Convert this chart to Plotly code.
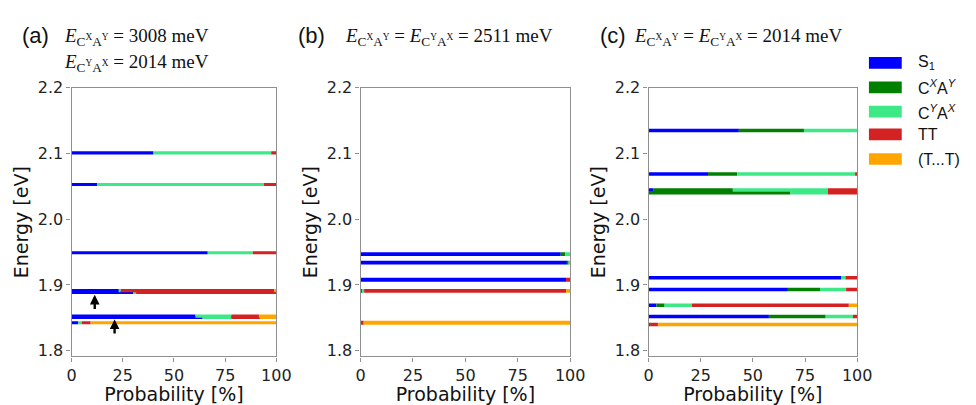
import plotly.graph_objects as go

# State compositions (probability in %) for each panel, ordered bottom-up in the stack:
# S1, CXAY, CYAX, TT, (T...T)
components = ["S1", "CXAY", "CYAX", "TT", "TTsep"]
colors = {
    "S1": "#0000ff",
    "CXAY": "#007f00",
    "CYAX": "#3de886",
    "TT": "#d42222",
    "TTsep": "#ffa500",
}
legend_labels = ["S<sub>1</sub>", "C<sup><i>X</i></sup>A<sup><i>Y</i></sup>",
                 "C<sup><i>Y</i></sup>A<sup><i>X</i></sup>", "TT", "(T...T)"]

# (a) E_CXAY = 3008 meV, E_CYAX = 2014 meV
a_energy = [2.101, 2.053, 1.949, 1.8915, 1.8885, 1.8525, 1.8505, 1.8425]
a_S1 = [40.0, 12.5, 66.5, 23.4, 30.0, 60.5, 64.0, 3.3]
a_CXAY = [0, 0, 0, 0, 0, 0, 0, 0]
a_CYAX = [57.5, 81.5, 22.0, 0.6, 1.5, 17.5, 14.0, 1.6]
a_TT = [2.5, 6.0, 11.5, 75.0, 68.5, 13.5, 14.0, 4.4]
a_TTsep = [0, 0, 0, 1.0, 0, 8.5, 8.0, 90.7]

# (b) E_CXAY = E_CYAX = 2511 meV
b_energy = [1.947, 1.934, 1.908, 1.891, 1.8425]
b_S1 = [95.5, 98.5, 98.0, 0.5, 0]
b_CXAY = [2.2, 0.8, 0, 0, 0]
b_CYAX = [2.3, 0.7, 0, 1.2, 0]
b_TT = [0, 0, 2.0, 96.3, 1.5]
b_TTsep = [0, 0, 0, 2.0, 98.5]

# (c) E_CXAY = E_CYAX = 2014 meV
c_energy = [2.135, 2.069, 2.0445, 2.0405, 1.911, 1.893, 1.869, 1.852, 1.840]
c_S1 = [43.3, 28.5, 2.2, 0, 92.3, 66.8, 3.8, 57.7, 0]
c_CXAY = [31.2, 14.0, 38.2, 68.0, 0, 15.4, 3.9, 27.2, 0.8]
c_CYAX = [25.5, 56.5, 45.6, 18.0, 2.1, 12.5, 13.1, 13.1, 0]
c_TT = [0, 1.0, 14.0, 14.0, 5.6, 5.3, 75.2, 2.0, 3.7]
c_TTsep = [0, 0, 0, 0, 0, 0, 4.0, 0, 95.5]

# Arrows in panel (a): (probability, tail energy, head energy)
arrow_x = [11.3, 21.0]
arrow_tail = [1.861, 1.824]
arrow_head = [1.885, 1.8475]

y_ticks = [1.8, 1.9, 2.0, 2.1, 2.2]
y_ticktext = ["1.8", "1.9", "2.0", "2.1", "2.2"]
x_ticks = [0, 25, 50, 75, 100]

# (x axis, y axis, energies, component lists, bar thickness in eV)
panels = [
    ("x", "y", a_energy, [a_S1, a_CXAY, a_CYAX, a_TT, a_TTsep], 0.0048),
    ("x2", "y2", b_energy, [b_S1, b_CXAY, b_CYAX, b_TT, b_TTsep], 0.0058),
    ("x3", "y3", c_energy, [c_S1, c_CXAY, c_CYAX, c_TT, c_TTsep], 0.0053),
]

W, H = 976, 405

fig = go.Figure()
for xa, ya, energy, comps, bw in panels:
    start = [0.0] * len(energy)
    for name, vals in zip(components, comps):
        fig.add_trace(go.Bar(
            x=vals, y=energy, base=list(start), orientation="h",
            width=bw, marker=dict(color=colors[name], line=dict(width=0)),
            xaxis=xa, yaxis=ya, showlegend=False, hoverinfo="skip",
        ))
        start = [s + v for s, v in zip(start, vals)]

def px(x):
    return x / W

def py(y):
    return 1 - y / H

frame = "#8f8f8f"
tickfont = dict(family="DejaVu Sans", size=16, color="#222222")
titlefont = dict(family="DejaVu Sans", size=19, color="#111111")

domains_x = [(68, 277), (363, 577), (657, 870)]
y_dom = [py(359), py(81.5)]
layout_axes = {}
for i, (x0, x1) in enumerate(domains_x):
    sfx = "" if i == 0 else str(i + 1)
    layout_axes["xaxis" + sfx] = dict(
        domain=[px(x0), px(x1)], range=[0, 100], anchor="y" + sfx,
        tickvals=x_ticks, ticks="outside", ticklen=4, tickcolor=frame,
        showline=True, linecolor=frame, linewidth=1.3, mirror=True,
        showgrid=False, zeroline=False, tickfont=tickfont,
        title=dict(text="Probability [%]", font=titlefont, standoff=2),
    )
    layout_axes["yaxis" + sfx] = dict(
        domain=y_dom, range=[1.7912, 2.2], anchor="x" + sfx,
        tickvals=y_ticks, ticktext=y_ticktext, ticks="outside", ticklen=4,
        tickcolor=frame, showline=True, linecolor=frame, linewidth=1.3,
        mirror=True, showgrid=False, zeroline=False, tickfont=tickfont,
        title=dict(text="Energy [eV]", font=titlefont, standoff=4),
    )

annotations = []
labelfont = dict(family="Liberation Sans", size=22, color="#111111")
mathfont = dict(family="Liberation Serif", size=19, color="#111111")
E_XY = "<i>E</i><sub>C<sup>X</sup>A<sup>Y</sup></sub>"
E_YX = "<i>E</i><sub>C<sup>Y</sup>A<sup>X</sup></sub>"
headers = [
    (15, "(a)", 58, [E_XY + " = 3008 meV", E_YX + " = 2014 meV"]),
    (297, "(b)", 345, [E_XY + " = " + E_YX + " = 2511 meV"]),
    (605, "(c)", 640, [E_XY + " = " + E_YX + " = 2014 meV"]),
]
for lx, lab, mx, lines in headers:
    annotations.append(dict(x=px(lx), y=py(27), xref="paper", yref="paper",
                            text=lab, showarrow=False, xanchor="left",
                            yanchor="middle", font=labelfont))
    for k, t in enumerate(lines):
        annotations.append(dict(x=px(mx), y=py(29 + 27 * k), xref="paper",
                                yref="paper", text=t, showarrow=False,
                                xanchor="left", yanchor="middle", font=mathfont))

for x, yt, yh in zip(arrow_x, arrow_tail, arrow_head):
    annotations.append(dict(x=x, y=yh, ax=x, ay=yt, xref="x", yref="y",
                            axref="x", ayref="y", text="", showarrow=True,
                            arrowhead=2, arrowsize=0.8, arrowwidth=2.4,
                            arrowcolor="#000000"))

# Legend swatches and labels
shapes = []
legfont = dict(family="Liberation Sans", size=16, color="#111111")
row_y = [55.7, 81, 106, 129.5, 155]
for name, lab, yc in zip(components, legend_labels, row_y):
    shapes.append(dict(type="rect", xref="paper", yref="paper",
                       x0=px(882), x1=px(915.5), y0=py(yc + 6), y1=py(yc - 6),
                       fillcolor=colors[name], line=dict(width=0)))
    annotations.append(dict(x=px(930), y=py(yc), xref="paper", yref="paper",
                            text=lab, showarrow=False, xanchor="left",
                            yanchor="middle", font=legfont))

fig.update_layout(
    width=W, height=H, margin=dict(l=0, r=0, t=0, b=0),
    paper_bgcolor="white", plot_bgcolor="white",
    barmode="overlay", showlegend=False,
    annotations=annotations, shapes=shapes, **layout_axes,
)

# Remove the default body margin so the figure sits flush in the page
page_fix = (
    "document.body.style.margin='0';"
    "document.body.style.overflow='hidden';"
    "document.documentElement.style.overflow='hidden';"
)
fig.write_html("out.html", post_script=page_fix)
